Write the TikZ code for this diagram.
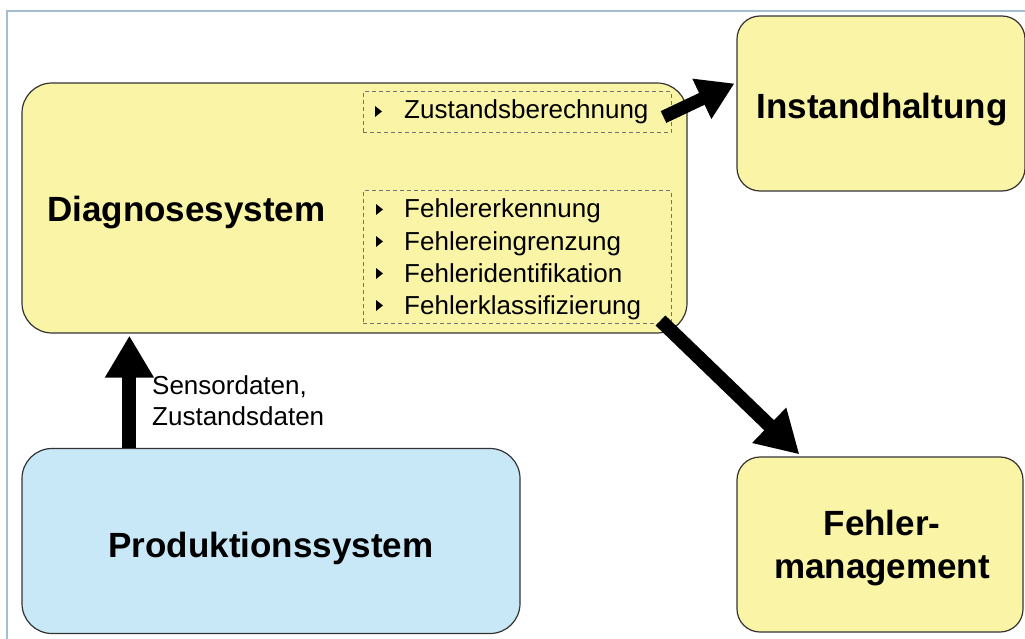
\documentclass[tikz,border=0pt]{standalone}
\usepackage{fontspec}
\setmainfont{Liberation Sans}
\usetikzlibrary{calc}
\usetikzlibrary{arrows.meta}
\definecolor{boxyellow}{HTML}{FAF4A6}
\definecolor{boxblue}{HTML}{C8E7F7}
\definecolor{framecol}{HTML}{A3BED2}
\begin{document}
\begin{tikzpicture}[x=1pt,y=-1pt,
    box/.style={draw=black!80,line width=1.2pt,rounded corners=#1,inner sep=0pt},
    box/.default=30pt,
    title/.style={font=\fontsize{35}{43}\selectfont\bfseries,align=center,inner sep=0pt},
    item/.style={font=\fontsize{26}{31}\selectfont,anchor=base west,inner sep=0pt},
    dashbox/.style={draw=black!55,dash pattern=on 4pt off 3pt,line width=1pt,inner sep=0pt},
    bigarrow/.style={line width=14pt,-{Triangle[length=42pt,width=46pt]}}]
            \useasboundingbox (0,0) rectangle (1025,639);
            \draw[framecol,line width=1.2pt] (7,639) |- (1025,11);
            \node[box,fill=boxyellow,minimum width=665,minimum height=250] (diag) at (354.5,208) {};
            \node[box=23pt,fill=boxyellow,minimum width=288,minimum height=175] (instand) at (881,103.5) {};
            \node[box=23pt,fill=boxyellow,minimum width=286,minimum height=175] (fehlman) at (880,544.5) {};
            \node[box,fill=boxblue,minimum width=498,minimum height=185] (prod) at (271,541) {};
            \node[dashbox,minimum width=308,minimum height=41] (zust) at (517,112.5) {};
            \node[dashbox,minimum width=308,minimum height=132] (fehl) at (517,257) {};
            \node[title,anchor=base west] (diagtext) at (47,222) {Diagnosesystem};
            \node[title,anchor=base] (instandtext) at (882,119) {Instandhaltung};
            \node[title,anchor=center] (fehlmantext) at (882,548) {Fehler-\\management};
            \node[title,anchor=base] (prodtext) at (271,557) {Produktionssystem};
            \node[item] (z1) at (404,119) {Zustandsberechnung};
            \fill ($(z1.base west)+(-29,-13)$) -- ++(0,11) -- ++(7,-5.5) -- cycle;
            \foreach \t [count=\i] in {Fehlererkennung,Fehlereingrenzung,Fehleridentifikation,Fehlerklassifizierung} {
                \node[item] (f\i) at (404,186+32*\i) {\t};
                \fill ($(f\i.base west)+(-28,-14)$) -- ++(0,11) -- ++(7,-5.5) -- cycle;
            }
            \node[item,anchor=west,align=left] (sensor) at (152,401) {Sensordaten,\\Zustandsdaten};
            \draw[bigarrow] ($(prod.north west)+(108,0)$) -- ($(diag.south west)+(108,2)$);
            \draw[bigarrow,line width=13pt,-{Triangle[length=36pt,width=42pt]}] ($(zust.east)+(-8,4.5)$) -- ($(instand.west)+(-2,-20)$);
            \draw[bigarrow] ($(fehl.south east)+(-11,-3)$) -- ($(fehlman.north west)+(63,-2)$);
\end{tikzpicture}
\end{document}
